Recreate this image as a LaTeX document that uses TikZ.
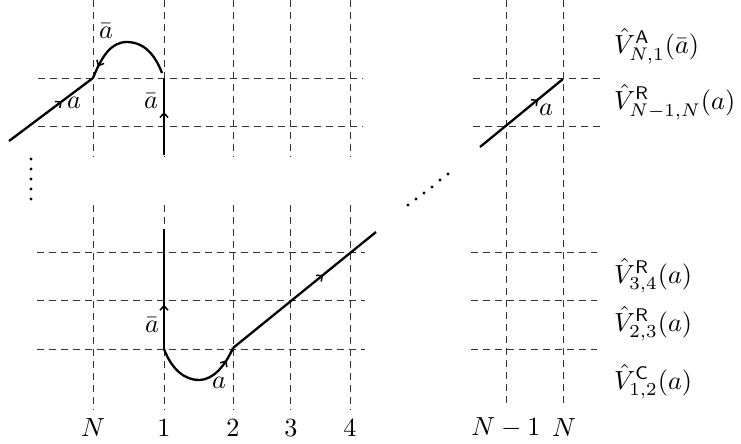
\documentclass[tikz,border=0pt]{standalone}
\usepackage{graphicx}
\usetikzlibrary{decorations.markings,arrows.meta}
\newcommand{\lblmath}[1]{\scalebox{2.62}{$#1$}}
\begin{document}
\begin{tikzpicture}[x=1pt,y=-1pt,
  grid/.style={dashed,dash pattern=on 7pt off 5pt,line width=1pt,black!80},
  world/.style={line width=2.3pt,black},
  midarrow/.style={postaction={decorate},decoration={markings,mark=at position #1 with {\arrow{Straight Barb[length=4.5pt,width=8pt,line width=1.5pt]}}}},
  lbl/.style={inner sep=0pt},
  dot/.style={circle,fill=black,inner sep=0pt,minimum size=3.4pt}]
\useasboundingbox (0,0) rectangle (741,444);
% grid top-left
\foreach \x in {93,164,233,290,350} \draw[grid] (\x,0) -- (\x,157);
\foreach \y in {78,126} \draw[grid] (38,\y) -- (363,\y);
% grid bottom-left
\foreach \x in {93,164,233,290,350} \draw[grid] (\x,205) -- (\x,410);
\foreach \y in {252,300,349} \draw[grid] (37,\y) -- (365,\y);
% grid right
\foreach \x in {506,563} \draw[grid] (\x,0) -- (\x,407);
\foreach \y in {78,126} \draw[grid] (473,\y) -- (600,\y);
\foreach \y in {252,300,349} \draw[grid] (471,\y) -- (597,\y);
% coordinates
\coordinate (tA) at (9,141);
\coordinate (tB) at (93,78);
\coordinate (tC) at (164,78);
\coordinate (tE) at (162,73);
\coordinate (tD) at (164,155);
\coordinate (bA) at (164,229);
\coordinate (bB) at (164,349);
\coordinate (bC) at (233,348);
\coordinate (bD) at (376,232);
\coordinate (rA) at (480,147);
\coordinate (rB) at (563,79);
% world lines
\draw[world,midarrow=0.63] (tA) -- (tB);
\draw[world,midarrow=0.56] (tD) -- (tC);
\draw[world,midarrow=0.88] (tE) .. controls (154,52) and (142,42) .. (127,42) .. controls (111,42) and (102,56) .. (tB);
\draw[world,midarrow=0.37] (bB) -- (bA);
\draw[world,midarrow=0.86] (bB) .. controls (172,370) and (185,380) .. (199,380) .. controls (213,380) and (225,366) .. (bC);
\draw[world,midarrow=0.63] (bC) -- (bD);
\draw[world,midarrow=0.7] (rA) -- (rB);
% labels on lines
\node[lbl] (l1) at (106,31) {\lblmath{\bar a}};
\node[lbl] (l2) at (74,103) {\lblmath{a}};
\node[lbl] (l3) at (151,101) {\lblmath{\bar a}};
\node[lbl] (l4) at (152,325) {\lblmath{\bar a}};
\node[lbl] (l5) at (219,383) {\lblmath{a}};
\node[lbl] (l6) at (546,110) {\lblmath{a}};
% column labels
\node[lbl] (cN) at (93,428) {\lblmath{N}};
\node[lbl] (c1) at (164,428) {\lblmath{1}};
\node[lbl] (c2) at (233,428) {\lblmath{2}};
\node[lbl] (c3) at (291,428) {\lblmath{3}};
\node[lbl] (c4) at (350,428) {\lblmath{4}};
\node[lbl] (cNm) at (506,428) {\lblmath{N-1}};
\node[lbl] (cNN) at (564,428) {\lblmath{N}};
% row labels
\node[lbl,anchor=west] (r1) at (614,46) {\lblmath{\hat V^{\mathsf{A}}_{N,1}(\bar a)}};
\node[lbl,anchor=west] (r2) at (614,102) {\lblmath{\hat V^{\mathsf{R}}_{N-1,N}(a)}};
\node[lbl,anchor=west] (r3) at (614,276) {\lblmath{\hat V^{\mathsf{R}}_{3,4}(a)}};
\node[lbl,anchor=west] (r4) at (614,324) {\lblmath{\hat V^{\mathsf{R}}_{2,3}(a)}};
\node[lbl,anchor=west] (r5) at (614,382) {\lblmath{\hat V^{\mathsf{C}}_{1,2}(a)}};
% dots
\foreach \y [count=\i] in {159,169,179,189,199} \node[dot] (v\i) at (31,\y) {};
\foreach \x/\y [count=\i] in {408/205,416/199,424/193,432/187,440/180,448/174} \node[dot] (d\i) at (\x,\y) {};
\end{tikzpicture}
\end{document}
